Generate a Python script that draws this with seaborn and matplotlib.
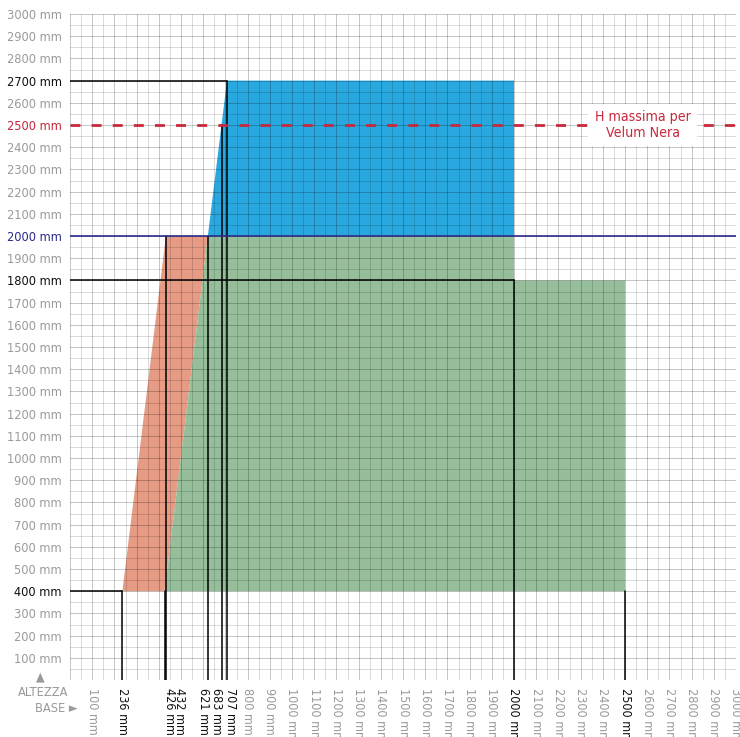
import matplotlib
matplotlib.use("Agg")
import matplotlib.pyplot as plt
import matplotlib.transforms as mtransforms
import seaborn as sns
import pandas as pd
import numpy as np

# ---------------- data ----------------
orange_x = [236, 432, 621, 426]
orange_y = [400, 2000, 2000, 400]
green_x = [426, 621, 2000, 2000, 2500, 2500]
green_y = [400, 2000, 2000, 1800, 1800, 400]
blue_x = [621, 707, 2000, 2000]
blue_y = [2000, 2700, 2700, 2000]

vline_x = [236, 426, 432, 621, 683, 707, 2000, 2500]
vline_top = [400, 400, 2000, 2000, 2500, 2700, 1800, 400]
hline_y = [400, 1800, 2700]
hline_end = [236, 2000, 707]

h_max = 2500
h_limit = 2000

special_x_labels = ["236 mm", "426 mm", "432 mm", "621 mm", "683 mm", "707 mm", "2000 mm", "2500 mm"]
special_x_label_pos = [236, 446, 492, 600, 658, 722, 2000, 2500]
gray_x_ticks = [100] + list(range(800, 3001, 100))
y_ticks = list(range(100, 3001, 100))
y_special_colors = {2700: "#111111", 2500: "#c8283c", 2000: "#2b2b8c", 1800: "#111111", 400: "#111111"}

# ---------------- style ----------------
sns.set_theme(style="white")
plt.rcParams["font.family"] = ["DejaVu Sans"]
plt.rcParams["font.stretch"] = "condensed"

fig = plt.figure(figsize=(7.4, 7.37), dpi=100)
ax = fig.add_axes([70 / 740, 1 - 680 / 737, 666 / 740, 666 / 737])
ax.set_xlim(0, 3000)
ax.set_ylim(0, 3000)
for s in ax.spines.values():
    s.set_visible(False)

# grid
ax.set_xticks(np.arange(0, 3001, 100))
ax.set_xticks(np.arange(50, 3000, 100), minor=True)
ax.set_yticks(np.arange(0, 3001, 100))
ax.set_yticks(np.arange(50, 3000, 100), minor=True)
ax.set_axisbelow(False)
ax.grid(which="major", color="black", alpha=0.22, lw=0.72)
ax.grid(which="minor", color="black", alpha=0.14, lw=0.72)
ax.tick_params(which="both", length=0, labelbottom=False)

# fills
ax.fill(orange_x, orange_y, color="#e69b85", lw=0, zorder=1)
ax.fill(green_x, green_y, color="#96be9a", lw=0, zorder=1)
ax.fill(blue_x, blue_y, color="#29a8e0", lw=0, zorder=1)

# reference lines via seaborn
rows = []
for i, (x, t) in enumerate(zip(vline_x, vline_top)):
    rows += [dict(id=f"v{i}", x=x, y=0), dict(id=f"v{i}", x=x, y=t)]
for i, (y, e) in enumerate(zip(hline_y, hline_end)):
    rows += [dict(id=f"h{i}", x=0, y=y), dict(id=f"h{i}", x=e, y=y)]
lines_df = pd.DataFrame(rows)
sns.lineplot(data=lines_df, x="x", y="y", units="id", estimator=None, sort=False,
             color="black", lw=1.1, ax=ax, zorder=3)

lim_df = pd.DataFrame(dict(x=[0, 3000], y=[h_limit, h_limit]))
sns.lineplot(data=lim_df, x="x", y="y", color="#2b2b8c", lw=1.2, ax=ax, zorder=3)
max_df = pd.DataFrame(dict(x=[0, 3000], y=[h_max, h_max]))
sns.lineplot(data=max_df, x="x", y="y", color="#c8283c", lw=2.0, ax=ax, zorder=3,
             dashes=False)
ax.lines[-1].set_dashes((3.6, 4.0))
ax.set_xlabel("")
ax.set_ylabel("")

ax.text(2579, h_max, "H massima per\nVelum Nera", color="#c8283c", fontsize=10.2,
        ha="center", va="center", zorder=5, linespacing=1.1,
        bbox=dict(facecolor="white", edgecolor="none", pad=5))

# y tick labels
ax.set_yticks(np.arange(0, 3001, 100))
ax.set_yticklabels([""] + [f"{v} mm" for v in y_ticks])
ax.tick_params(axis="y", pad=6, labelsize=9.2)
for lab, v in zip(ax.get_yticklabels(), [0] + y_ticks):
    lab.set_color(y_special_colors.get(v, "#9a9a9a"))

# x labels
trans = mtransforms.blended_transform_factory(ax.transData, ax.transAxes)
for v in gray_x_ticks:
    if v in (2000, 2500):
        continue
    ax.text(v, -0.012, f"{v} mm", rotation=270, ha="center", va="top", color="#9a9a9a",
            fontsize=9, transform=trans, clip_on=False)
for lab, p in zip(special_x_labels, special_x_label_pos):
    ax.text(p, -0.012, lab, rotation=270, ha="center", va="top", color="#111111",
            fontsize=9, transform=trans, clip_on=False)

fig.text(40 / 740, 1 - 677 / 737, "▲", color="#9a9a9a", fontsize=9, ha="center", va="center")
fig.text(43 / 740, 1 - 692 / 737, "ALTEZZA", color="#9a9a9a", fontsize=9.2, ha="center", va="center")
fig.text(56 / 740, 1 - 709 / 737, "BASE ►", color="#9a9a9a", fontsize=9.2, ha="center", va="center")

fig.savefig("out.png", dpi=100)
